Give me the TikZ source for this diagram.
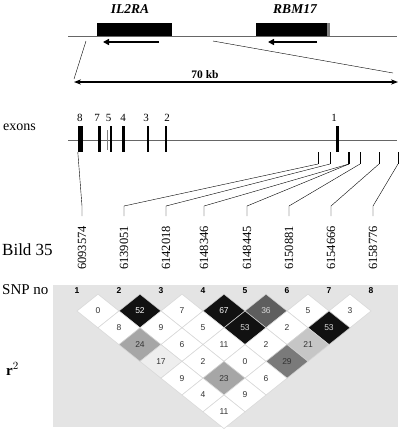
\documentclass[tikz,border=0pt]{standalone}
\usepackage{fontspec}
\setmainfont{Liberation Serif}
\setsansfont{Liberation Sans}
\usetikzlibrary{arrows.meta}
\definecolor{bggray}{HTML}{E4E4E4}
\definecolor{cellline}{HTML}{D6D6D6}
\definecolor{ldA}{HTML}{111111}
\definecolor{ldB}{HTML}{5E5E5E}
\definecolor{ldC}{HTML}{7A7A7A}
\definecolor{ldD}{HTML}{A6A6A6}
\definecolor{ldE}{HTML}{C6C6C6}
\definecolor{ldF}{HTML}{EEEEEE}

\begin{document}
\begin{tikzpicture}[x=1pt, y=-1pt,
    genelab/.style={font=\fontsize{13.5}{15}\selectfont\bfseries\itshape},
    exbar/.style={fill, inner sep=0, minimum height=26pt},
    exnum/.style={font=\fontsize{11}{12}\selectfont, inner sep=0},
    sidelab/.style={font=\fontsize{15}{17}\selectfont, anchor=west, inner sep=0},
    snppos/.style={font=\fontsize{12.5}{14}\selectfont, rotate=90, anchor=east, inner sep=0},
    snpno/.style={font=\sffamily\bfseries\fontsize{8.5}{10}\selectfont, inner sep=0},
    ldval/.style={font=\sffamily\fontsize{8.5}{10}\selectfont, inner sep=0}]
\useasboundingbox (0,0) rectangle (401,432);

\draw[gray!80!black, line width=0.8pt] (68,36) -- (397,36);
\fill (97,23) rectangle (172,36);
\fill (256,23) rectangle (327,36);
\fill[gray] (327,23) rectangle (330,36);
\node[genelab] (il2ra) at (130,9) {IL2RA};
\node[genelab] (rbm17) at (295,9) {RBM17};
\coordinate (a1) at (159,42); \coordinate (a2) at (103,42);
\coordinate (b1) at (317,42); \coordinate (b2) at (268,42);
\draw[-{Triangle[length=6pt,width=6pt]}, line width=2.2pt] (a1) -- (a2);
\draw[-{Triangle[length=6pt,width=6pt]}, line width=2.2pt] (b1) -- (b2);

\coordinate (z1) at (86,41); \coordinate (z2) at (74,79);
\coordinate (z3) at (213,41); \coordinate (z4) at (393,73);
\draw (z1) -- (z2);
\draw (z3) -- (z4);
\coordinate (k1) at (74,82); \coordinate (k2) at (398,82);
\draw[{Stealth[length=7pt]}-{Stealth[length=7pt]}, line width=1.3pt] (k1) -- (k2);
\node[font=\fontsize{11.5}{13}\selectfont\bfseries] (kb) at (205,75) {70 kb};

\node[sidelab, font=\fontsize{14}{16}\selectfont] (exons) at (3,127) {exons};
\draw[gray!80!black, line width=0.8pt] (68,140) -- (397,140);
\foreach \n/\x/\w/\lx in {8/80.5/5/80, 7/99.3/2.4/97, 5/111/2.4/108.5, 4/123.3/2.4/123, 3/148/1.8/146, 2/166/2.4/167, 1/337/3/334}{
  \node[exbar, minimum width=\w pt] (ex\n) at (\x,139) {};
  \node[exnum] (en\n) at (\lx,118) {\n};
}
\node[exbar, fill=gray, minimum width=1pt, minimum height=20pt] (exx) at (107,140) {};

\foreach \t/\x in {t1/318, t2/330, t4/360, t5/379, t6/398}
  \draw (\x,152) -- (\x,164) coordinate (\t);
\draw[line width=2pt] (349,152) -- (349,164) coordinate (t3);

\node[sidelab, font=\fontsize{17}{19}\selectfont] (bild) at (2,250) {Bild 35};
\foreach \n/\x/\pos in {1/82/6093574, 2/124/6139051, 3/166/6142018, 4/204/6148346, 5/247/6148445, 6/289/6150881, 7/331/6154666, 8/373/6158776}
  \node[snppos] (s\n) at (\x,226) {\pos};
\draw (ex8.south west) -- ([yshift=20pt]s1.east) -- ([yshift=10pt]s1.east);
\foreach \n/\t in {2/t1, 3/t2, 4/t3, 5/t3, 6/t4, 7/t5, 8/t6}
  \draw (\t) -- ([yshift=20pt]s\n.east) -- ([yshift=10pt]s\n.east);

\fill[bggray] (53,285) rectangle (398,427);
\node[sidelab] (snpno) at (2,290) {SNP no};
\foreach \n in {1,...,8}
  \node[snpno] (n\n) at ({77+42*(\n-1)},291) {\n};
\node[sidelab, font=\fontsize{15}{17}\selectfont\bfseries] (rsq) at (6,369) {r$^2$};

\foreach \i/\j/\v/\c/\tc in {1/2/0/white/black!80, 2/3/52/ldA/white, 3/4/7/white/black!80, 4/5/67/ldA/white, 5/6/36/ldB/white!85!black, 6/7/5/white/black!80, 7/8/3/white/black!80,
    1/3/8/white/black!80, 2/4/9/white/black!80, 3/5/5/white/black!80, 4/6/53/ldA/white!85!black, 5/7/2/white/black!80, 6/8/53/ldA/white!85!black,
    1/4/24/ldD/black!80, 2/5/6/white/black!80, 3/6/11/white/black!80, 4/7/2/white/black!80, 5/8/21/ldE/black!80,
    1/5/17/ldF/black!80, 2/6/2/white/black!80, 3/7/0/white/black!80, 4/8/29/ldC/black!80,
    1/6/9/white/black!80, 2/7/23/ldD/black!80, 3/8/6/white/black!80,
    1/7/4/white/black!80, 2/8/9/white/black!80,
    1/8/11/white/black!80}{
  \pgfmathsetmacro\cx{77+21*(\i+\j-2)}
  \pgfmathsetmacro\cy{311+16.8*(\j-\i-1)}
  \filldraw[fill=\c, draw=cellline, line width=0.5pt] (\cx-21,\cy) -- (\cx,\cy-16.8) -- (\cx+21,\cy) -- (\cx,\cy+16.8) -- cycle;
  \node[ldval, text=\tc] (c\i\j) at (\cx,\cy) {\v};
}
\end{tikzpicture}
\end{document}
